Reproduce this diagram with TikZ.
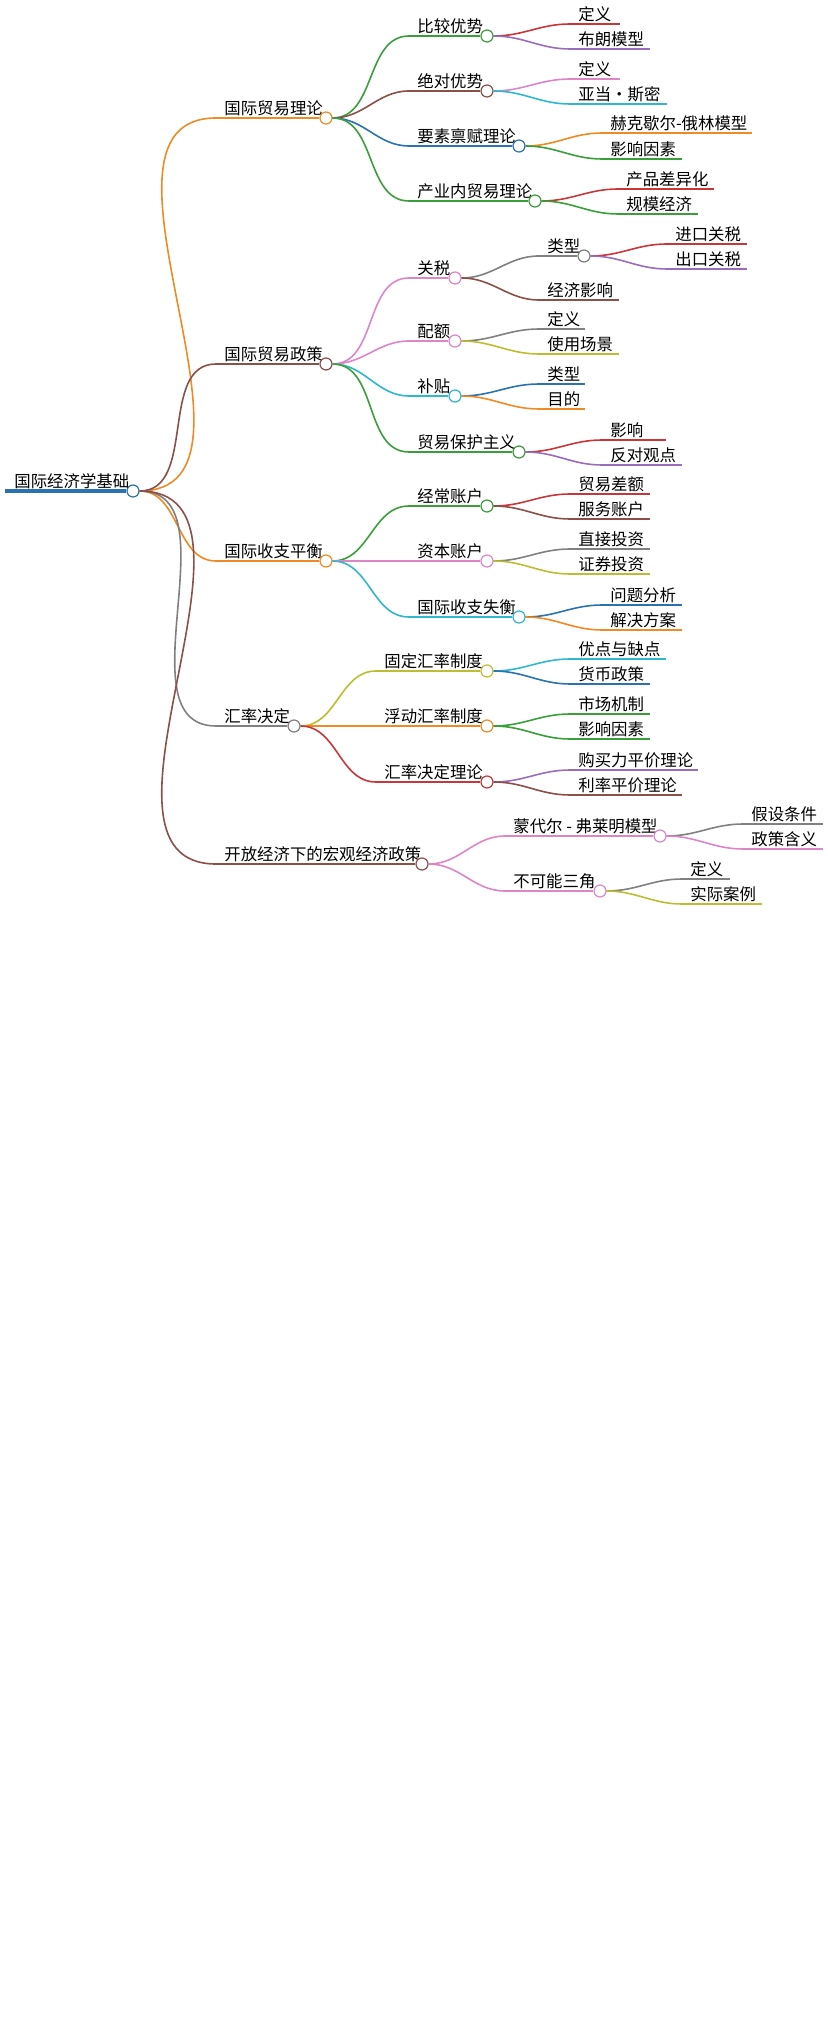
\documentclass[tikz,border=0pt]{standalone}
\usepackage{fontspec}
\newfontfamily\cjk{Noto Sans CJK SC}
\definecolor{cOrange}{HTML}{F08A24}
\definecolor{cBrown}{HTML}{8B5048}
\definecolor{cGreen}{HTML}{3A9E3A}
\definecolor{cBlue}{HTML}{2A72B0}
\definecolor{cRed}{HTML}{C8363A}
\definecolor{cPurple}{HTML}{9A6DBA}
\definecolor{cPink}{HTML}{DE85C8}
\definecolor{cCyan}{HTML}{2FB8CC}
\definecolor{cGray}{HTML}{808080}
\definecolor{cOlive}{HTML}{BCBD30}
% inner node: parent, name, colour, text x, y, circle x, text
\newcommand\mmbranch[7]{%
  \coordinate (#2-s) at (#4-6,#5);
  \node[lbl] (#2) at (#4,#5) {#7};
  \node[dot, draw=#3] (#2-c) at (#6,#5) {};
  \draw[#3, edge] (#1-c.east) to[out=0,in=180] (#2-s);
  \draw[#3, edge] (#2-s) -- (#2-c.west);}
% leaf: parent, name, colour, text x, y, end x, text
\newcommand\mmleaf[7]{%
  \coordinate (#2-s) at (#4-6,#5);
  \coordinate (#2-e) at (#6,#5);
  \node[lbl] (#2) at (#4,#5) {#7};
  \draw[#3, edge] (#1-c.east) to[out=0,in=180] (#2-s);
  \draw[#3, edge] (#2-s) -- (#2-e);}
\begin{document}
\begin{tikzpicture}[x=0.5pt, y=-0.5pt,
    lbl/.style={anchor=south west, inner sep=1pt, font=\cjk\fontsize{8.2pt}{9pt}\selectfont},
    dot/.style={circle, fill=white, line width=0.6pt, minimum size=6pt, inner sep=0pt},
    edge/.style={line width=0.8pt}]
  \useasboundingbox (0,0) rectangle (828,2021);
  % root
  \node[lbl] (root) at (12,491) {国际经济学基础};
  \node[dot, draw=cBlue] (root-c) at (133,491) {};
  \draw[cBlue, line width=2pt] (5,491) -- (root-c.west);
  % level 1
  \mmbranch{root}{trade}{cOrange}{222}{118}{326}{国际贸易理论}
  \mmbranch{root}{policy}{cBrown}{222}{364}{326}{国际贸易政策}
  \mmbranch{root}{bop}{cOrange}{222}{561}{326}{国际收支平衡}
  \mmbranch{root}{fx}{cGray}{222}{726}{294}{汇率决定}
  \mmbranch{root}{open}{cBrown}{222}{864}{422}{开放经济下的宏观经济政策}
  % 国际贸易理论
  \mmbranch{trade}{comp}{cGreen}{415}{36}{487}{比较优势}
  \mmleaf{comp}{comp1}{cRed}{576}{24}{620}{定义}
  \mmleaf{comp}{comp2}{cPurple}{576}{49}{650}{布朗模型}
  \mmbranch{trade}{abs}{cBrown}{415}{91}{487}{绝对优势}
  \mmleaf{abs}{abs1}{cPink}{576}{79}{620}{定义}
  \mmleaf{abs}{abs2}{cCyan}{576}{104}{667}{亚当・斯密}
  \mmbranch{trade}{fact}{cBlue}{415}{146}{519}{要素禀赋理论}
  \mmleaf{fact}{fact1}{cOrange}{608}{133}{752}{赫克歇尔-俄林模型}
  \mmleaf{fact}{fact2}{cGreen}{608}{159}{682}{影响因素}
  \mmbranch{trade}{intra}{cGreen}{415}{201}{535}{产业内贸易理论}
  \mmleaf{intra}{intra1}{cRed}{624}{189}{714}{产品差异化}
  \mmleaf{intra}{intra2}{cGreen}{624}{214}{698}{规模经济}
  % 国际贸易政策
  \mmbranch{policy}{tariff}{cPink}{415}{278}{455}{关税}
  \mmbranch{tariff}{ttype}{cGray}{545}{256}{584}{类型}
  \mmleaf{ttype}{ttype1}{cRed}{673}{244}{747}{进口关税}
  \mmleaf{ttype}{ttype2}{cPurple}{673}{269}{747}{出口关税}
  \mmleaf{tariff}{teff}{cBrown}{545}{300}{619}{经济影响}
  \mmbranch{policy}{quota}{cPink}{415}{341}{455}{配额}
  \mmleaf{quota}{quota1}{cGray}{545}{329}{585}{定义}
  \mmleaf{quota}{quota2}{cOlive}{545}{354}{619}{使用场景}
  \mmbranch{policy}{subs}{cCyan}{415}{396}{455}{补贴}
  \mmleaf{subs}{subs1}{cBlue}{545}{384}{585}{类型}
  \mmleaf{subs}{subs2}{cOrange}{545}{409}{585}{目的}
  \mmbranch{policy}{prot}{cGreen}{415}{452}{519}{贸易保护主义}
  \mmleaf{prot}{prot1}{cRed}{608}{440}{666}{影响}
  \mmleaf{prot}{prot2}{cPurple}{608}{465}{682}{反对观点}
  % 国际收支平衡
  \mmbranch{bop}{cur}{cGreen}{415}{506}{487}{经常账户}
  \mmleaf{cur}{cur1}{cRed}{576}{494}{650}{贸易差额}
  \mmleaf{cur}{cur2}{cBrown}{576}{519}{650}{服务账户}
  \mmbranch{bop}{cap}{cPink}{415}{561}{487}{资本账户}
  \mmleaf{cap}{cap1}{cGray}{576}{549}{650}{直接投资}
  \mmleaf{cap}{cap2}{cOlive}{576}{574}{650}{证券投资}
  \mmbranch{bop}{imb}{cCyan}{415}{617}{519}{国际收支失衡}
  \mmleaf{imb}{imb1}{cBlue}{608}{605}{682}{问题分析}
  \mmleaf{imb}{imb2}{cOrange}{608}{630}{682}{解决方案}
  % 汇率决定
  \mmbranch{fx}{fixed}{cOlive}{382}{671}{487}{固定汇率制度}
  \mmleaf{fixed}{fixed1}{cCyan}{576}{659}{666}{优点与缺点}
  \mmleaf{fixed}{fixed2}{cBlue}{576}{684}{650}{货币政策}
  \mmbranch{fx}{float}{cOrange}{382}{726}{487}{浮动汇率制度}
  \mmleaf{float}{float1}{cGreen}{576}{714}{650}{市场机制}
  \mmleaf{float}{float2}{cGreen}{576}{739}{650}{影响因素}
  \mmbranch{fx}{theo}{cRed}{382}{782}{487}{汇率决定理论}
  \mmleaf{theo}{theo1}{cPurple}{576}{770}{698}{购买力平价理论}
  \mmleaf{theo}{theo2}{cBrown}{576}{795}{682}{利率平价理论}
  % 开放经济下的宏观经济政策
  \mmbranch{open}{mf}{cPink}{511}{836}{660}{蒙代尔 - 弗莱明模型}
  \mmleaf{mf}{mf1}{cGray}{749}{824}{823}{假设条件}
  \mmleaf{mf}{mf2}{cPink}{749}{849}{823}{政策含义}
  \mmbranch{open}{tri}{cPink}{511}{891}{600}{不可能三角}
  \mmleaf{tri}{tri1}{cGray}{688}{879}{730}{定义}
  \mmleaf{tri}{tri2}{cOlive}{688}{904}{762}{实际案例}
\end{tikzpicture}
\end{document}
